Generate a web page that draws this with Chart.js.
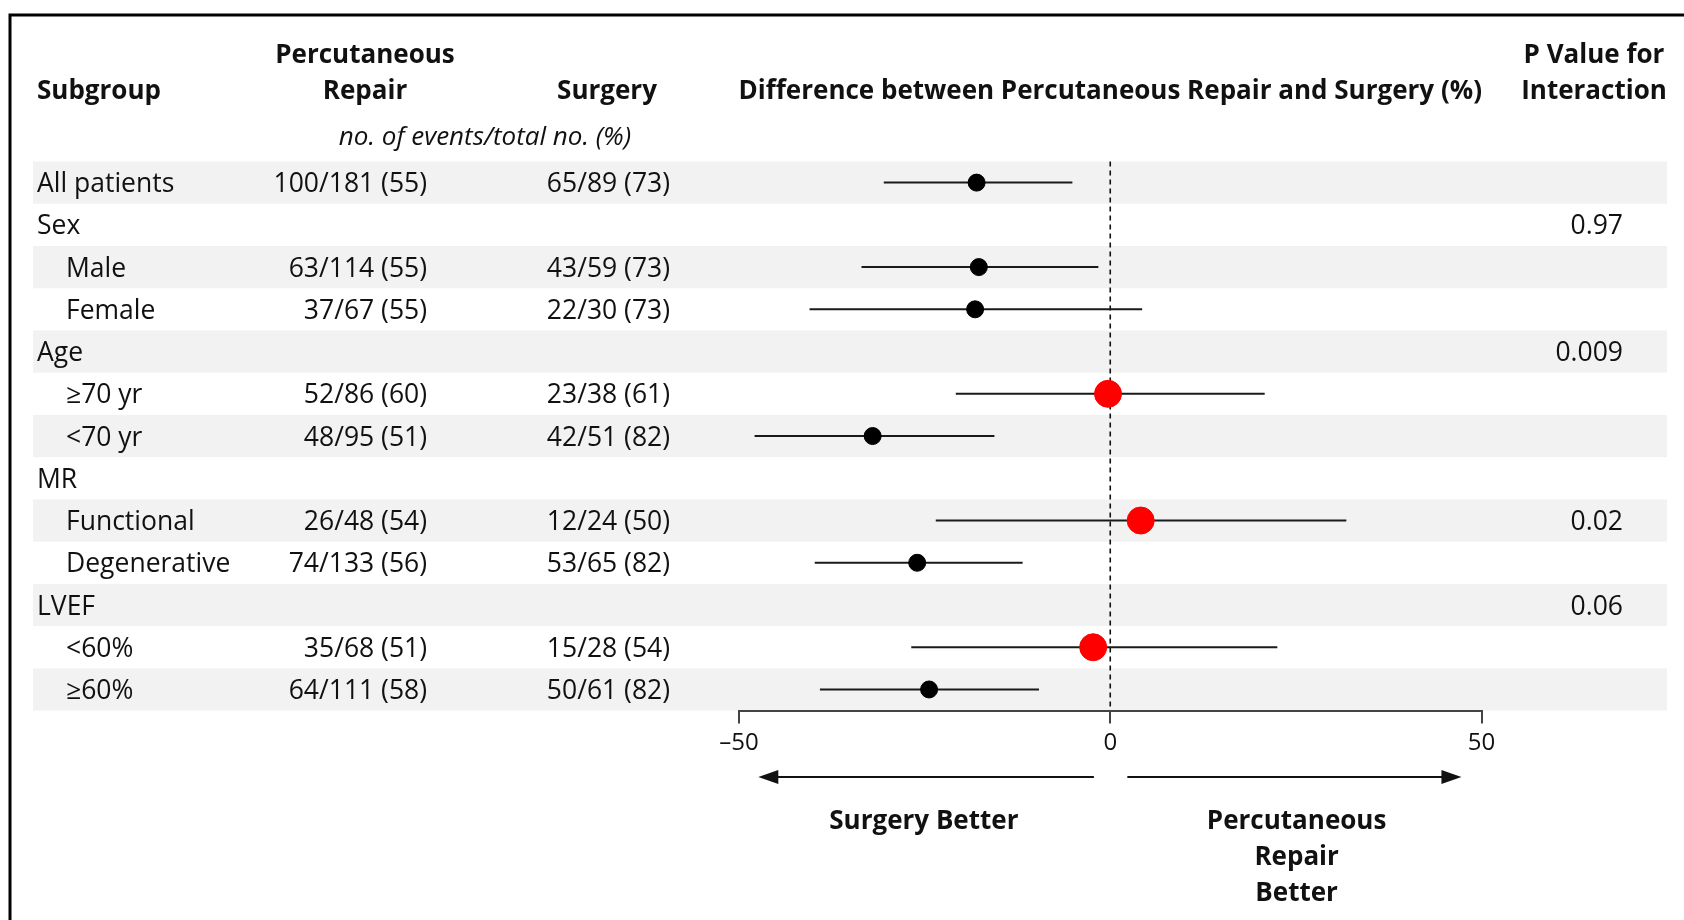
<!DOCTYPE html>
<html>
<head>
<meta charset="utf-8">
<script src="https://cdn.jsdelivr.net/npm/chart.js@4.4.0/dist/chart.umd.min.js"></script>
<style>
  html, body { margin: 0; padding: 0; background: #fff; }
  #wrap { position: relative; width: 1684px; height: 920px; }
</style>
</head>
<body>
<div id="wrap"><canvas id="forest"></canvas></div>
<script>
// datos de la figura, fila por fila
const subgroups = ['All patients', 'Sex', 'Male', 'Female', 'Age', '≥70 yr', '<70 yr', 'MR', 'Functional', 'Degenerative', 'LVEF', '<60%', '≥60%'];
const indent = [0, 0, 1, 1, 0, 1, 1, 0, 1, 1, 0, 1, 1];
const repairEvents = ['100/181 (55)', '', '63/114 (55)', '37/67 (55)', '', '52/86 (60)', '48/95 (51)', '', '26/48 (54)', '74/133 (56)', '', '35/68 (51)', '64/111 (58)'];
const surgeryEvents = ['65/89 (73)', '', '43/59 (73)', '22/30 (73)', '', '23/38 (61)', '42/51 (82)', '', '12/24 (50)', '53/65 (82)', '', '15/28 (54)', '50/61 (82)'];
const diffEst = [-18.0, null, -17.7, -18.2, null, -0.3, -32.0, null, 4.1, -26.0, null, -2.3, -24.4];
const diffLow = [-30.5, null, -33.5, -40.5, null, -20.8, -47.9, null, -23.5, -39.8, null, -26.8, -39.1];
const diffHigh = [-5.1, null, -1.6, 4.3, null, 20.8, -15.6, null, 31.8, -11.8, null, 22.5, -9.6];
const pInteraction = ['', '0.97', '', '', '0.009', '', '', '', '0.02', '', '0.06', '', ''];
const highlighted = ['≥70 yr', 'Functional', '<60%'];
const xTicks = [-50, 0, 50];

const FONT = '"Open Sans", Lato, sans-serif';

// puntos negros y rojos
const blackPts = [];
const redPts = [];
subgroups.forEach((g, i) => {
  if (diffEst[i] === null) return;
  const p = { x: diffEst[i], y: i };
  if (highlighted.includes(g)) redPts.push(p); else blackPts.push(p);
});

// franjas grises, textos de la tabla, lineas de IC y flechas
const tablePlugin = {
  id: 'tablePlugin',
  beforeDraw(chart) {
    const ctx = chart.ctx;
    const y = chart.scales.y;
    ctx.save();
    ctx.fillStyle = '#f2f2f2';
    subgroups.forEach((g, i) => {
      if (i % 2 !== 0) return;
      const top = y.getPixelForValue(i - 0.5);
      const bot = y.getPixelForValue(i + 0.5);
      ctx.fillRect(33, top, 1634, bot - top);
    });
    // marco
    ctx.strokeStyle = '#000';
    ctx.lineWidth = 3;
    ctx.beginPath();
    ctx.moveTo(10, 922);
    ctx.lineTo(10, 15);
    ctx.lineTo(1684, 15);
    ctx.stroke();
    ctx.restore();
  },
  beforeDatasetsDraw(chart) {
    const ctx = chart.ctx;
    const x = chart.scales.x, y = chart.scales.y;
    ctx.save();
    // linea punteada en 0
    ctx.strokeStyle = '#111';
    ctx.lineWidth = 1.6;
    ctx.setLineDash([5, 4]);
    ctx.beginPath();
    ctx.moveTo(x.getPixelForValue(0), y.getPixelForValue(-0.5));
    ctx.lineTo(x.getPixelForValue(0), y.getPixelForValue(12.5));
    ctx.stroke();
    ctx.setLineDash([]);
    // intervalos
    ctx.strokeStyle = '#1a1a1a';
    ctx.lineWidth = 2;
    subgroups.forEach((g, i) => {
      if (diffEst[i] === null) return;
      const py = y.getPixelForValue(i);
      ctx.beginPath();
      ctx.moveTo(x.getPixelForValue(diffLow[i]), py);
      ctx.lineTo(x.getPixelForValue(diffHigh[i]), py);
      ctx.stroke();
    });
    ctx.restore();
  },
  afterDraw(chart) {
    const ctx = chart.ctx;
    const x = chart.scales.x, y = chart.scales.y;
    ctx.save();
    ctx.fillStyle = '#111';
    ctx.textBaseline = 'middle';
    // encabezados
    ctx.font = 'bold 26px ' + FONT;
    ctx.textAlign = 'left';
    ctx.fillText('Subgroup', 37, 92);
    ctx.textAlign = 'center';
    ctx.fillText('Percutaneous', 365, 56);
    ctx.fillText('Repair', 365, 92);
    ctx.fillText('Surgery', 607, 92);
    ctx.fillText('Difference between Percutaneous Repair and Surgery (%)', x.getPixelForValue(0), 92);
    ctx.fillText('P Value for', 1594, 56);
    ctx.fillText('Interaction', 1594, 92);
    ctx.font = 'italic 26px ' + FONT;
    ctx.fillText('no. of events/total no. (%)', 485, 138);
    // filas
    ctx.font = '26.5px ' + FONT;
    subgroups.forEach((g, i) => {
      const py = y.getPixelForValue(i) + 2;
      ctx.textAlign = 'left';
      ctx.fillText(g, indent[i] ? 66 : 37, py);
      ctx.textAlign = 'right';
      ctx.fillText(repairEvents[i], 427, py);
      ctx.fillText(surgeryEvents[i], 670, py);
      ctx.fillText(pInteraction[i], 1623, py);
    });
    // flechas
    const ay = 777;
    const arrow = (from, to) => {
      const x0 = x.getPixelForValue(from), x1 = x.getPixelForValue(to);
      const dir = Math.sign(x1 - x0);
      ctx.strokeStyle = '#111';
      ctx.lineWidth = 2;
      ctx.beginPath();
      ctx.moveTo(x0, ay);
      ctx.lineTo(x1 - dir * 16, ay);
      ctx.stroke();
      ctx.beginPath();
      ctx.moveTo(x1, ay);
      ctx.lineTo(x1 - dir * 20, ay - 7);
      ctx.lineTo(x1 - dir * 20, ay + 7);
      ctx.closePath();
      ctx.fill();
    };
    arrow(-2.2, -47.4);
    arrow(2.3, 47.3);
    ctx.font = 'bold 26px ' + FONT;
    ctx.textAlign = 'center';
    ctx.fillText('Surgery Better', x.getPixelForValue(-25.1), 822);
    const cx = x.getPixelForValue(25.1);
    ctx.fillText('Percutaneous', cx, 822);
    ctx.fillText('Repair', cx, 858);
    ctx.fillText('Better', cx, 894);
    ctx.restore();
  }
};

new Chart(document.getElementById('forest'), {
  type: 'scatter',
  data: {
    datasets: [
      { data: blackPts, backgroundColor: '#000', borderColor: '#000', pointRadius: 8.5, pointHoverRadius: 8.5 },
      { data: redPts, backgroundColor: '#ff0000', borderColor: '#ff0000', pointRadius: 13.5, pointHoverRadius: 13.5 }
    ]
  },
  options: {
    responsive: true,
    maintainAspectRatio: false,
    animation: false,
    layout: { padding: { top: 161.5, bottom: 149.4, left: 739, right: 202.5 } },
    plugins: { legend: { display: false }, tooltip: { enabled: false } },
    scales: {
      x: {
        type: 'linear',
        min: -50,
        max: 50,
        afterBuildTicks: (s) => { s.ticks = xTicks.map(v => ({ value: v })); },
        afterFit: (s) => { s.height = 60; },
        ticks: {
          color: '#111',
          padding: 5,
          font: { family: FONT, size: 24 },
          callback: (v) => v < 0 ? '–' + Math.abs(v) : String(v)
        },
        grid: { drawOnChartArea: false, drawTicks: true, tickLength: 13, color: '#444', lineWidth: 2 },
        border: { display: true, color: '#444', width: 2 }
      },
      y: {
        type: 'linear',
        min: -0.5,
        max: 12.5,
        reverse: true,
        display: false
      }
    }
  },
  plugins: [tablePlugin]
});
</script>
</body>
</html>
